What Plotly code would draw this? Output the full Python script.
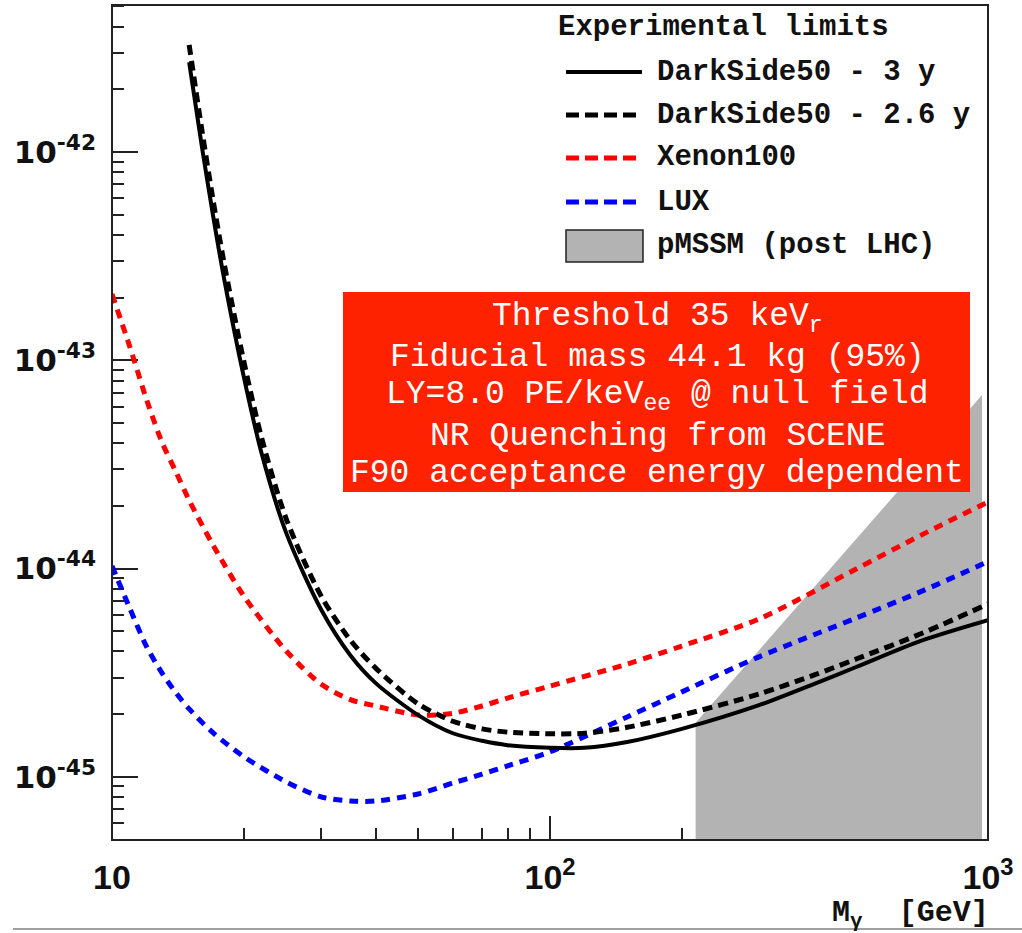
import plotly.graph_objects as go

# ---------------- data ----------------
ds3_mass = [15, 16, 17, 18, 20, 22, 25, 30, 35, 40, 50, 60, 70, 80, 100, 120, 150, 200, 300, 400, 500, 700, 1000]
ds3_sigma = [2.70e-42, 1.10e-42, 4.99e-43, 2.51e-43, 8.30e-44, 3.52e-44, 1.48e-44, 6.38e-45, 3.84e-45, 2.82e-45,
             1.98e-45, 1.62e-45, 1.49e-45, 1.42e-45, 1.38e-45, 1.38e-45, 1.47e-45, 1.70e-45, 2.21e-45, 2.79e-45,
             3.37e-45, 4.49e-45, 5.66e-45]

ds26_mass = [15, 16, 17, 18, 20, 22, 25, 30, 35, 40, 50, 60, 70, 80, 100, 120, 150, 200, 300, 400, 500, 700, 1000]
ds26_sigma = [3.27e-42, 1.32e-42, 5.93e-43, 2.98e-43, 9.86e-44, 4.18e-44, 1.73e-44, 7.41e-45, 4.54e-45, 3.33e-45,
              2.24e-45, 1.85e-45, 1.70e-45, 1.64e-45, 1.61e-45, 1.62e-45, 1.73e-45, 1.98e-45, 2.50e-45, 3.08e-45,
              3.68e-45, 4.85e-45, 6.76e-45]

xenon_mass = [10, 11, 12, 13, 14, 15, 17, 20, 25, 30, 35, 40, 50, 60, 70, 80, 100, 150, 200, 300, 500, 700, 1000]
xenon_sigma = [2.08e-43, 1.15e-43, 6.45e-44, 4.05e-44, 2.91e-44, 2.13e-44, 1.30e-44, 7.38e-45, 4.02e-45, 2.79e-45,
               2.35e-45, 2.19e-45, 1.98e-45, 2.02e-45, 2.19e-45, 2.39e-45, 2.73e-45, 3.48e-45, 4.25e-45, 5.73e-45,
               9.96e-45, 1.44e-44, 2.09e-44]

lux_mass = [10, 11, 12, 13, 14, 15, 17, 20, 25, 30, 35, 40, 50, 60, 70, 80, 100, 150, 200, 300, 500, 700, 1000]
lux_sigma = [1.03e-44, 6.39e-45, 4.21e-45, 3.16e-45, 2.53e-45, 2.12e-45, 1.63e-45, 1.25e-45, 9.46e-46, 8.02e-46,
             7.66e-46, 7.66e-46, 8.28e-46, 9.35e-46, 1.03e-45, 1.13e-45, 1.32e-45, 1.94e-45, 2.56e-45, 3.77e-45,
             5.79e-45, 7.73e-45, 1.08e-44]

pmssm_mass = [215, 215, 969, 969]
pmssm_sigma = [1e-46, 1.82e-45, 6.81e-44, 1e-46]

y_major = [1e-45, 1e-44, 1e-43, 1e-42]
y_major_text = ["10<sup>-45</sup>", "10<sup>-44</sup>", "10<sup>-43</sup>", "10<sup>-42</sup>"]
x_major = [10, 100, 1000]
x_major_text = ["10", "10<sup>2</sup>", "10<sup>3</sup>"]

legend_title = "Experimental limits"
legend_labels = ["DarkSide50 - 3 y", "DarkSide50 - 2.6 y", "Xenon100", "LUX", "pMSSM (post LHC)"]
box_lines = ["Threshold 35 keV<sub>r</sub>",
             "Fiducial mass 44.1 kg (95%)",
             "LY=8.0 PE/keV<sub>ee</sub> @ null field",
             "NR Quenching from SCENE",
             "F90 acceptance energy dependent"]

# ---------------- figure ----------------
W, H = 1022, 933
L, R, T, B = 112, 988, 5, 840


def px(x):
    return (x - L) / (R - L)


def py(y):
    return (B - y) / (B - T)


fig = go.Figure()

fig.add_trace(go.Scatter(x=pmssm_mass, y=pmssm_sigma, mode="lines", fill="toself",
                         fillcolor="#B3B3B3", line=dict(width=0, color="#B3B3B3"),
                         name="pMSSM (post LHC)", showlegend=False, hoverinfo="skip"))
fig.add_trace(go.Scatter(x=xenon_mass, y=xenon_sigma, mode="lines", name="Xenon100",
                         line=dict(color="#FF0000", width=5, dash="9px,7px", shape="spline", smoothing=0.8),
                         showlegend=False))
fig.add_trace(go.Scatter(x=lux_mass, y=lux_sigma, mode="lines", name="LUX",
                         line=dict(color="#0000FF", width=5, dash="9px,7px", shape="spline", smoothing=0.8),
                         showlegend=False))
fig.add_trace(go.Scatter(x=ds26_mass, y=ds26_sigma, mode="lines", name="DarkSide50 - 2.6 y",
                         line=dict(color="#000000", width=5, dash="10px,6px", shape="spline", smoothing=0.8),
                         showlegend=False))
fig.add_trace(go.Scatter(x=ds3_mass, y=ds3_sigma, mode="lines", name="DarkSide50 - 3 y",
                         line=dict(color="#000000", width=4, shape="spline", smoothing=0.8),
                         showlegend=False))

minor_x = [m * 10 ** e for e in (1, 2) for m in range(2, 10)]
minor_y = [m * 10.0 ** e for e in (-46, -45, -44, -43, -42) for m in range(2, 10)]

fig.update_layout(
    width=W, height=H,
    margin=dict(l=L, r=W - R, t=T, b=H - B),
    paper_bgcolor="white", plot_bgcolor="white",
    showlegend=False,
    xaxis=dict(type="log", range=[1, 3], showgrid=False, zeroline=False, showline=False,
               tickmode="array", tickvals=x_major, ticktext=x_major_text,
               ticks="inside", ticklen=24, tickwidth=1.5, tickcolor="#222",
               tickfont=dict(family="Liberation Sans", size=34, color="#111", weight="bold"),
               ticklabelstandoff=14, layer="below traces",
               minor=dict(tickmode="array", tickvals=minor_x, ticks="inside", ticklen=12,
                          tickwidth=1.5, tickcolor="#222", showgrid=False)),
    yaxis=dict(type="log", range=[-45.303, -41.294], showgrid=False, zeroline=False, showline=False,
               tickmode="array", tickvals=y_major, ticktext=y_major_text,
               ticks="inside", ticklen=26, tickwidth=1.5, tickcolor="#222",
               tickfont=dict(family="DejaVu Sans", size=31, color="#111", weight="bold"),
               ticklabelstandoff=15, layer="below traces",
               minor=dict(tickmode="array", tickvals=minor_y, ticks="inside", ticklen=12,
                          tickwidth=1.5, tickcolor="#222", showgrid=False)),
)

shapes = []
# frame
shapes.append(dict(type="rect", xref="paper", yref="paper", x0=0, x1=1, y0=0, y1=1,
                   line=dict(color="#222", width=2), fillcolor="rgba(0,0,0,0)", layer="above"))
# red info box
shapes.append(dict(type="rect", xref="paper", yref="paper", x0=px(343), x1=px(970), y0=py(492), y1=py(292),
                   line=dict(width=0), fillcolor="#FF2200", layer="above"))
# bottom page line
shapes.append(dict(type="line", xref="paper", yref="paper", x0=px(13), x1=px(1022), y0=py(929), y1=py(929),
                   line=dict(color="#A0A0A0", width=2), layer="above"))

# legend samples
rows = [72, 115, 158, 202, 246]
styles = [dict(color="#000000", width=4, dash="solid"),
          dict(color="#000000", width=5, dash="13px,6px"),
          dict(color="#FF0000", width=5, dash="13px,6px"),
          dict(color="#0000FF", width=5, dash="13px,6px")]
for yy, st in zip(rows[:4], styles):
    shapes.append(dict(type="line", xref="paper", yref="paper", x0=px(566), x1=px(642), y0=py(yy), y1=py(yy),
                       line=st, layer="above"))
shapes.append(dict(type="rect", xref="paper", yref="paper", x0=px(566), x1=px(643), y0=py(262), y1=py(230),
                   line=dict(color="#222", width=1.5), fillcolor="#B3B3B3", layer="above"))

annotations = []
leg_font = dict(family="Liberation Mono", size=29, color="#111", weight="bold")
annotations.append(dict(xref="paper", yref="paper", x=px(556), y=py(27), xanchor="left", yanchor="middle",
                        text=legend_title, showarrow=False, font=leg_font))
for yy, lab in zip(rows, legend_labels):
    annotations.append(dict(xref="paper", yref="paper", x=px(655), y=py(yy), xanchor="left", yanchor="middle",
                            text=lab, showarrow=False, font=leg_font))

box_font = dict(family="Liberation Mono", size=33, color="white")
for yy, line in zip([318, 357, 396, 436, 474], box_lines):
    annotations.append(dict(xref="paper", yref="paper", x=px(657), y=py(yy), xanchor="center", yanchor="middle",
                            text=line, showarrow=False, font=box_font))

# x axis title (ROOT style, right aligned)
annotations.append(dict(xref="paper", yref="paper", x=px(991), y=py(915), xanchor="right", yanchor="middle",
                        text="M<sub>γ</sub>&nbsp;&nbsp;[GeV]", showarrow=False,
                        font=dict(family="Liberation Mono", size=30, color="#111", weight="bold")))

fig.update_layout(shapes=shapes, annotations=annotations)

fig.write_html("out.html", config={"displayModeBar": False},
               post_script="document.body.style.margin='0px';document.body.style.padding='0px';")
